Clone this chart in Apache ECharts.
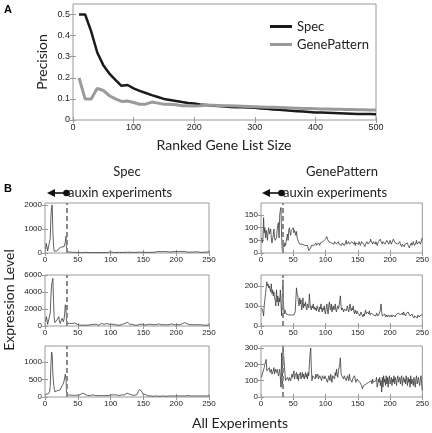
<!DOCTYPE html>
<html><head><meta charset="utf-8">
<script src="https://cdn.jsdelivr.net/npm/echarts@6/dist/echarts.min.js"></script>
<style>html,body{margin:0;padding:0;background:#fff}#c{width:432px;height:433px}</style>
</head><body><div id="c"></div><script>
// ---------- Panel A data ----------
const listSizes = [10,20,30,40,50,60,70,80,90,100,110,120,130,140,150,160,170,180,190,200,210,220,230,240,250,260,270,280,290,300,310,320,330,340,350,360,370,380,390,400,410,420,430,440,450,460,470,480,490,500];
const specPrecision = [0.50,0.50,0.42,0.32,0.26,0.22,0.19,0.162,0.166,0.150,0.138,0.128,0.118,0.109,0.100,0.095,0.090,0.085,0.081,0.078,0.074,0.071,0.068,0.066,0.064,0.062,0.061,0.060,0.059,0.058,0.055,0.053,0.050,0.048,0.046,0.044,0.042,0.040,0.038,0.036,0.035,0.034,0.033,0.032,0.031,0.030,0.029,0.028,0.028,0.027];
const genePatternPrecision = [0.20,0.10,0.10,0.15,0.14,0.115,0.10,0.088,0.09,0.083,0.075,0.075,0.085,0.08,0.075,0.075,0.072,0.068,0.068,0.066,0.068,0.071,0.070,0.069,0.068,0.067,0.066,0.065,0.064,0.063,0.062,0.061,0.060,0.059,0.058,0.057,0.056,0.055,0.054,0.053,0.052,0.052,0.051,0.051,0.050,0.050,0.049,0.049,0.048,0.048];
const xTicksA = [0,100,200,300,400,500];
const yTicksA = [0,0.1,0.2,0.3,0.4,0.5];

// ---------- Panel B data (experiments 1..250) ----------
const auxinBoundary = 33;
const specGene1 = [
150,400,250,80,30,20,60,600,1500,1900,2000,900,300,80,50,60,100,80,120,150,180,200,150,220,250,
200,180,230,260,300,450,700,60,30,20,35,25,40,30,20,25,30,20,15,25,30,20,25,35,20,
25,30,20,15,20,30,25,20,15,20,25,30,25,20,15,20,25,20,15,20,25,30,20,15,20,
25,20,15,20,30,25,20,15,25,30,20,15,20,25,20,30,25,20,15,20,25,30,35,25,20,
30,40,35,25,20,15,20,25,30,25,20,15,20,25,20,30,25,20,25,30,35,30,25,20,25,
30,25,20,25,30,35,40,30,25,20,25,30,25,20,25,30,35,40,30,25,30,35,30,25,30,
35,40,30,25,30,35,30,25,40,50,45,35,30,40,55,45,30,35,40,50,60,45,35,40,50,
55,45,40,50,60,55,45,50,60,70,55,45,50,60,55,45,40,50,65,75,60,45,40,50,60,
55,45,50,60,70,55,45,40,50,55,45,40,50,60,55,45,40,35,45,50,40,35,30,40,45,
40,35,30,40,50,45,35,30,40,45,40,30,25,35,40,35,30,25,30,35,40,30,25,30,40];
const specGene2 = [
500,1100,800,200,150,200,300,1500,3500,4800,5200,5600,3000,1000,400,200,250,300,800,1000,1100,600,300,250,400,
900,1100,500,800,1500,2500,2000,300,200,150,250,300,200,250,400,300,200,150,250,350,300,200,150,200,250,
200,150,100,150,200,150,100,150,200,150,100,150,200,150,100,120,150,100,120,150,100,120,150,200,150,
100,150,200,250,200,150,100,150,200,250,300,250,200,150,200,250,300,350,300,250,300,250,200,150,200,
250,200,150,200,250,200,150,200,150,100,150,200,150,100,150,200,250,200,150,200,250,300,400,450,500,
450,350,250,200,150,200,250,200,150,200,150,100,150,200,150,100,150,200,150,200,250,200,150,200,150,
200,150,100,150,200,250,200,150,100,150,200,150,100,120,150,100,150,200,150,100,150,200,250,200,150,
100,150,200,150,100,150,200,250,200,150,100,150,200,150,200,250,300,250,200,150,100,150,200,150,100,
150,200,250,200,150,200,250,300,250,200,300,350,400,450,500,350,250,200,150,200,150,100,150,200,150,
100,150,200,150,100,150,200,150,100,150,200,150,100,120,150,100,150,200,150,100,150,200,150,100,150];
const specGene3 = [
80,100,70,60,90,100,150,300,900,1280,1200,650,400,250,150,100,120,150,180,200,220,180,200,250,280,
300,350,400,450,550,650,500,40,30,20,40,60,50,40,30,50,60,40,30,50,40,30,40,50,60,
50,40,60,70,80,90,110,130,120,100,80,70,60,50,40,50,60,50,40,30,40,50,60,50,40,
30,40,50,40,30,40,50,40,30,40,50,60,50,40,50,60,50,40,50,60,50,40,50,60,70,
60,50,40,50,60,70,60,50,60,70,60,50,40,50,60,70,60,50,60,70,60,50,60,80,110,
140,150,120,80,60,50,60,50,40,50,60,50,60,50,60,80,150,200,210,220,180,210,150,90,60,
50,60,70,60,50,40,30,40,30,20,30,20,25,30,20,25,30,20,25,30,20,25,30,25,20,
25,30,20,25,30,25,20,30,25,20,25,30,20,25,30,25,20,25,30,25,20,25,30,25,20,
25,30,35,30,25,30,35,30,25,30,35,40,35,30,25,30,35,40,45,40,35,30,25,30,35,
30,25,30,35,30,25,30,35,30,25,20,25,30,25,20,25,30,25,20,25,30,35,30,25,30];
const gpGene1 = [
60,40,55,140,80,100,60,90,70,50,85,100,75,80,95,60,40,55,70,95,60,50,45,60,90,
110,120,60,150,170,180,60,10,20,35,25,40,30,45,60,75,50,90,100,80,70,90,95,85,100,
80,90,95,70,85,60,55,45,40,35,40,35,30,35,40,30,35,30,25,30,35,30,20,10,5,
8,20,30,25,30,35,30,25,35,40,30,35,30,40,35,30,40,45,35,40,45,50,40,45,55,
60,65,55,50,45,40,45,50,40,35,45,40,35,45,50,40,35,30,40,45,35,30,40,35,30,
40,35,45,30,35,40,50,35,30,40,45,35,30,40,35,45,50,40,35,45,30,40,35,45,40,
35,45,40,30,35,45,50,40,35,30,25,35,40,45,50,35,30,40,45,55,45,40,35,45,50,
40,35,45,40,30,35,45,40,50,55,45,40,35,45,50,40,35,30,40,50,55,45,35,40,50,
45,35,30,40,55,60,50,40,35,45,40,35,30,40,45,35,30,25,35,40,30,25,35,40,30,
35,40,30,25,20,30,35,40,30,35,45,40,30,35,40,50,35,30,40,45,50,35,40,30,60];
const gpGene2 = [
90,80,70,50,100,130,160,190,220,200,210,190,200,180,170,210,160,180,150,170,140,130,100,180,120,
150,100,140,120,180,110,50,150,230,100,60,80,70,60,65,55,60,55,50,55,60,55,50,55,60,
55,60,70,65,190,160,150,120,100,140,110,130,80,100,140,90,110,100,120,90,80,110,100,90,160,
110,90,80,100,90,110,85,95,80,90,75,100,90,80,70,95,85,110,80,70,90,80,100,70,60,
90,110,80,60,100,120,90,80,110,70,90,100,80,90,110,80,70,90,100,85,80,120,150,100,80,
90,80,70,85,90,80,75,90,100,80,70,90,110,85,75,90,80,100,70,60,80,70,60,75,65,
70,60,50,55,70,60,55,45,60,50,65,80,60,55,70,65,60,75,55,50,65,60,70,55,50,
60,55,50,65,60,50,55,60,70,80,110,70,50,45,55,50,60,45,50,55,45,50,55,50,45,
50,55,45,50,55,60,50,45,55,50,60,55,65,60,70,55,50,60,65,55,70,60,55,50,60,
55,65,70,60,55,50,45,55,60,50,45,40,50,55,45,50,40,55,50,45,40,50,55,50,55];
const gpGene3 = [
120,140,130,150,180,200,210,230,160,150,170,160,180,150,160,170,140,150,160,180,140,170,160,150,170,
160,130,150,170,160,60,270,60,310,320,310,300,100,110,100,120,110,100,120,130,100,110,140,120,130,
160,110,130,120,150,110,140,100,130,120,150,110,130,150,120,140,110,130,150,120,140,110,150,130,200,
260,300,180,100,130,120,140,130,110,140,120,130,140,110,120,130,140,120,100,130,120,140,110,130,120,
130,120,90,110,130,120,100,140,110,90,130,120,140,110,150,130,170,140,120,160,180,200,240,150,130,
140,120,110,130,140,120,100,110,130,120,100,140,110,120,100,90,110,120,100,130,110,90,100,110,120,
100,110,90,100,80,70,50,60,70,80,60,70,80,90,70,80,90,100,80,90,100,80,110,90,100,
80,90,100,120,60,80,110,90,120,70,100,30,120,60,130,90,110,70,130,80,120,60,110,130,80,
100,120,70,110,90,130,80,120,100,70,110,130,90,100,120,80,110,130,70,100,120,90,110,80,130,
100,70,120,90,110,60,130,80,110,100,70,120,90,60,110,130,80,100,120,90,70,110,130,80,40];
const xTicksB = [0,50,100,150,200,250];
const yTicksSpec1 = [0,1000,2000];
const yTicksSpec2 = [0,2000,4000,6000];
const yTicksSpec3 = [0,500,1000];
const yTicksGP1 = [0,50,100,150];
const yTicksGP2 = [0,100,200];
const yTicksGP3 = [0,100,200,300];

// ---------- build ----------
const FR = '#9a9a9a';
const grids = [], xAxes = [], yAxes = [], series = [];
const plain = v => String(v);
function addPanel(g, xr, xt, yr, yt, fs) {
  const gi = grids.length;
  grids.push(Object.assign({show:true, borderColor:FR, borderWidth:1, backgroundColor:'transparent', containLabel:false}, g));
  const lab = {fontSize:fs, color:'#222', fontFamily:'Liberation Sans', formatter:plain};
  const base = (vals) => ({axisLine:{show:false}, splitLine:{show:false},
    axisTick:{show:true, inside:true, length:3, lineStyle:{color:FR}, customValues:vals}});
  xAxes.push(Object.assign(base(xt), {gridIndex:gi, type:'value', min:xr[0], max:xr[1], position:'bottom',
    axisLabel:Object.assign({margin:3, customValues:xt}, lab)}));
  xAxes.push(Object.assign(base(xt), {gridIndex:gi, type:'value', min:xr[0], max:xr[1], position:'top', axisLabel:{show:false}}));
  yAxes.push(Object.assign(base(yt), {gridIndex:gi, type:'value', min:yr[0], max:yr[1], position:'left',
    axisLabel:Object.assign({margin:3, customValues:yt}, lab)}));
  yAxes.push(Object.assign(base(yt), {gridIndex:gi, type:'value', min:yr[0], max:yr[1], position:'right', axisLabel:{show:false}}));
  return {x: xAxes.length - 2, y: yAxes.length - 2};
}
// Panel A
const pa = addPanel({left:73, top:4, width:303, height:116}, [0,500], xTicksA, [0,0.55], yTicksA, 9);
series.push({name:'Spec', type:'line', xAxisIndex:pa.x, yAxisIndex:pa.y, symbol:'none',
  lineStyle:{color:'#1a1a1a', width:2.5}, itemStyle:{color:'#1a1a1a'},
  data: listSizes.map((s,i)=>[s, specPrecision[i]])});
series.push({name:'GenePattern', type:'line', xAxisIndex:pa.x, yAxisIndex:pa.y, symbol:'none',
  lineStyle:{color:'#9a9a9a', width:3}, itemStyle:{color:'#9a9a9a'},
  data: listSizes.map((s,i)=>[s, genePatternPrecision[i]])});

// Panel B
const expIdx = specGene1.map((_, i) => i + 1);
const rowsB = [
  {top:203, h:50, L:[specGene1,[0,2080],yTicksSpec1], R:[gpGene1,[0,198],yTicksGP1]},
  {top:275, h:51, L:[specGene2,[0,6000],yTicksSpec2], R:[gpGene2,[0,254],yTicksGP2]},
  {top:346, h:51, L:[specGene3,[0,1450],yTicksSpec3], R:[gpGene3,[0,312],yTicksGP3]}
];
rowsB.forEach(r => {
  [[45, r.L], [261, r.R]].forEach(([left, d]) => {
    const p = addPanel({left:left, top:r.top, width:164, height:r.h}, [0,250], xTicksB, d[1], d[2], 8);
    series.push({type:'line', xAxisIndex:p.x, yAxisIndex:p.y, symbol:'none', silent:true,
      lineStyle:{color:'#3a3a3a', width:0.8},
      data: expIdx.map((e,i)=>[e, d[0][i]]),
      markLine:{silent:true, symbol:'none', label:{show:false},
        lineStyle:{color:'#8a8a8a', width:2, type:[5,3]}, data:[{xAxis:auxinBoundary}]}});
  });
});

const TF = 'Lato';
function txt(x, y, s, o) {
  return Object.assign({type:'text', x:x, y:y, style:Object.assign({text:s, fill:'#222', font:'13px '+TF, textAlign:'center', textVerticalAlign:'middle'}, o||{})});
}
function arrow(x0) {
  return [
    {type:'polygon', shape:{points:[[x0,193],[x0+8,189],[x0+8,197]]}, style:{fill:'#111'}},
    {type:'line', shape:{x1:x0+7, y1:193, x2:x0+18, y2:193}, style:{stroke:'#111', lineWidth:1.6}},
    {type:'circle', shape:{cx:x0+19.5, cy:193, r:3.3}, style:{fill:'#111'}}
  ];
}
const graphics = [
  txt(8, 10, 'A', {font:'bold 11px Liberation Sans', fill:'#000'}),
  txt(8, 189, 'B', {font:'bold 11px Liberation Sans', fill:'#000'}),
  txt(224, 145, 'Ranked Gene List Size', {font:'14px '+TF}),
  Object.assign(txt(0, 0, 'Precision', {font:'14px '+TF}), {x:42, y:62, rotation:Math.PI/2}),
  txt(127, 172, 'Spec'),
  txt(342, 172, 'GenePattern'),
  txt(68, 193, 'auxin experiments', {textAlign:'left'}),
  txt(283, 193, 'auxin experiments', {textAlign:'left'}),
  Object.assign(txt(0, 0, 'Expression Level', {font:'14px '+TF}), {x:9, y:300, rotation:Math.PI/2}),
  txt(240, 423, 'All Experiments', {font:'14px '+TF})
].concat(arrow(47), arrow(262));

const chart = echarts.init(document.getElementById('c'), null, {renderer:'canvas'});
chart.setOption({
  animation:false,
  backgroundColor:'#fff',
  grid:grids, xAxis:xAxes, yAxis:yAxes, series:series,
  legend:{orient:'vertical', left:265, top:15, itemWidth:22, itemGap:5,
    textStyle:{fontSize:13, color:'#222', fontFamily:TF},
    data:[{name:'Spec', icon:'rect', itemStyle:{color:'#1a1a1a'}},
          {name:'GenePattern', icon:'rect', itemStyle:{color:'#9a9a9a'}}],
    itemHeight:3},
  graphic:graphics
});
</script></body></html>
